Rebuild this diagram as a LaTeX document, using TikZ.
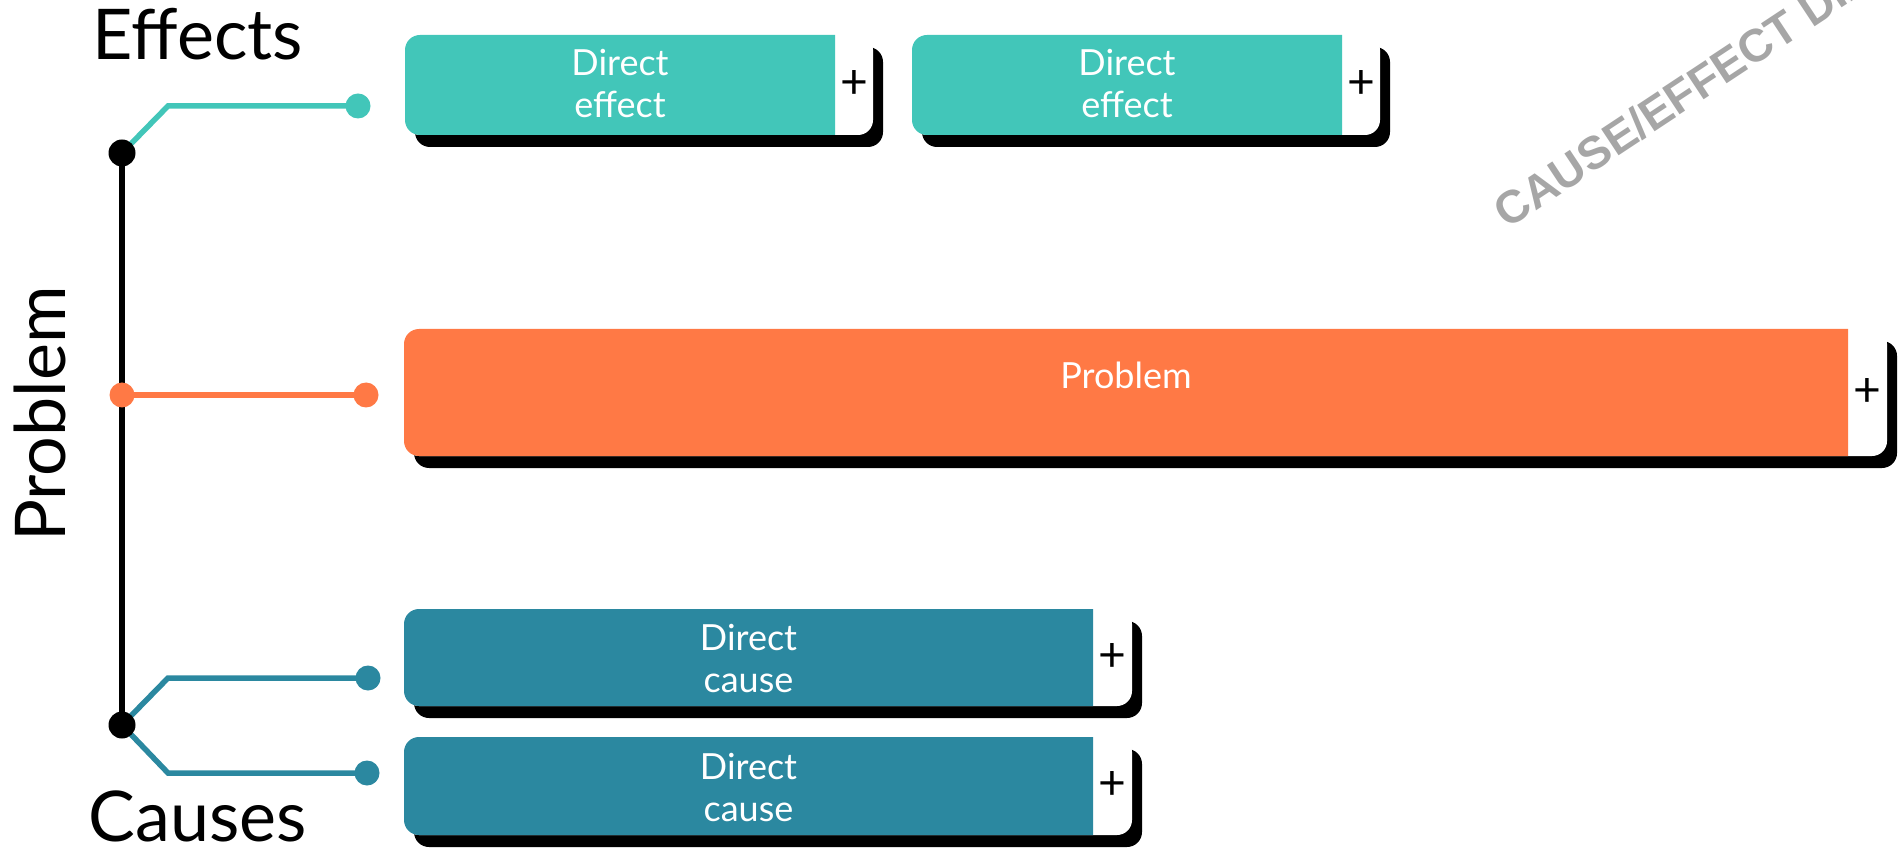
\documentclass[tikz,border=0pt]{standalone}
\usepackage{fontspec}
\setmainfont{Lato}
\newfontfamily\wmfont{Liberation Sans}
\definecolor{efteal}{RGB}{66,198,185}
\definecolor{prorange}{RGB}{255,121,69}
\definecolor{cateal}{RGB}{43,136,160}
\definecolor{wmgray}{RGB}{166,166,166}
\newcommand\ceBox[9]{% #1 name, #2 x1, #3 y1, #4 xsplit, #5 x2, #6 y2, #7 colour, #8 text, #9 text y
  \fill[black, rounded corners=7.5pt] (#2+10,#3+12) rectangle (#5+10,#6+12);
  \fill[white, rounded corners=7.5pt] (#2,#3) rectangle (#5,#6);
  \begin{scope}
    \clip (#2,#3) rectangle (#4,#6);
    \fill[#7, rounded corners=7.5pt] (#2,#3) rectangle (#5,#6);
  \end{scope}
  \node[boxtext] (#1) at ({(#2+#4)/2},#9) {#8};
  \node[plustext] (#1p) at ({(#4+#5)/2},{(#3+#6)/2}) {+};
}
\begin{document}
\begin{tikzpicture}[x=0.5pt,y=-0.5pt,
  conn/.style={line width=2.75pt, line join=miter},
  dot/.style={circle, inner sep=0pt, minimum size=12.5pt},
  jdot/.style={circle, inner sep=0pt, minimum size=13.5pt},
  title/.style={font=\fontsize{35}{40}\selectfont, text=black, inner sep=0pt},
  boxtext/.style={font=\fontsize{18}{21}\selectfont, text=white, align=center, inner sep=0pt},
  plustext/.style={font=\fontsize{24}{28}\selectfont, text=black, inner sep=0pt},
  watermark/.style={font=\wmfont\bfseries\fontsize{23}{28}\selectfont, text=wmgray, inner sep=0pt}]
\useasboundingbox (0,0) rectangle (1898,849);
\clip (0,0) rectangle (1898,849);

% titles
\node[title, anchor=base] (teff) at (198,60) {Effects};
\node[title, anchor=base] (tcau) at (198,841) {Causes};
\node[title, rotate=90] (tprob) at (40,414) {Problem};

% watermark
\node[watermark, rotate=33.5, anchor=base west] (wm) at (1507,230) {CAUSE/EFFECT DIAGRAM};

% boxes
\ceBox{e1}{405}{35}{835}{873}{135}{efteal}{Direct\\effect}{84}
\ceBox{e2}{912}{35}{1342}{1380}{135}{efteal}{Direct\\effect}{84}
\ceBox{pb}{404}{329}{1848}{1887}{456}{prorange}{Problem}{375}
\ceBox{c1}{404}{609}{1093}{1132}{706}{cateal}{Direct\\cause}{659}
\ceBox{c2}{404}{737}{1093}{1132}{835}{cateal}{Direct\\cause}{788}

% junctions and end dots
\coordinate (jE) at (122,153);
\coordinate (jP) at (122,395);
\coordinate (jC) at (122,725);
\coordinate (bE) at (168,106);
\coordinate (bC1) at (168,678);
\coordinate (bC2) at (168,773);
\coordinate (dEc) at (358,106);
\coordinate (dPc) at (366,395);
\coordinate (dC1c) at (368,678);
\coordinate (dC2c) at (367,773);

\draw[conn, efteal] (jE) -- (bE) -- (dEc);
\draw[conn, prorange] (jP) -- (dPc);
\draw[conn, cateal] (jC) -- (bC1) -- (dC1c);
\draw[conn, cateal] (jC) -- (bC2) -- (dC2c);
\draw[conn, black] (jE) -- (jC);

\node[dot, fill=efteal] (dE) at (dEc) {};
\node[dot, fill=prorange] (dP) at (dPc) {};
\node[dot, fill=cateal] (dC1) at (dC1c) {};
\node[dot, fill=cateal] (dC2) at (dC2c) {};
\node[jdot, fill=black] (nE) at (jE) {};
\node[dot, fill=prorange] (nP) at (jP) {};
\node[jdot, fill=black] (nC) at (jC) {};
\end{tikzpicture}
\end{document}
